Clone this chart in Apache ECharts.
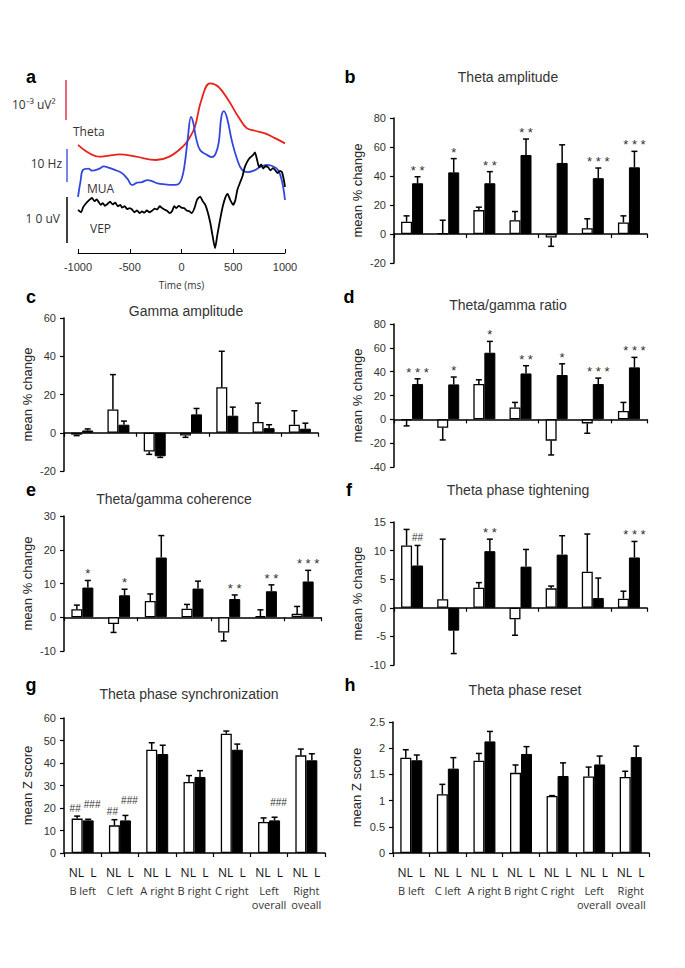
<!DOCTYPE html>
<html><head><meta charset="utf-8">
<script src="https://cdn.jsdelivr.net/npm/echarts@6/dist/echarts.min.js"></script>
<style>html,body{margin:0;padding:0;background:#fff}#c{width:685px;height:968px}</style>
</head><body><div id="c"></div><script>
// ---------- DATA ----------
const groups = ['B left','C left','A right','B right','C right','Left\noverall','Right\noveall'];
const timeTicks = [-1000,-500,0,500,1000];
// panel a traces: [time ms, amplitude]
const thetaTrace = [[-1000,0.41],[-890,0.18],[-793,0.09],[-700,0.12],[-600,0.15],[-439,0.09],[-246,0],[-117,0.09],[12,0.36],[76,0.59],[130,0.9],[192,1.62],[275,2.07],[356,1.98],[452,1.62],[549,1.17],[630,0.86],[710,0.79],[807,0.72],[903,0.59],[1000,0.45]];
const muaTrace = [[-1000,1],[-975,6],[-952,9.4],[-900,9.8],[-865,9.2],[-800,9.7],[-750,10.5],[-720,10.3],[-650,9.5],[-575,8.4],[-520,6.5],[-478,4.7],[-430,5.4],[-382,5.6],[-330,6.2],[-285,5.9],[-230,5.2],[-159,4.9],[-90,4.7],[-43,4.8],[0,6.5],[30,11],[60,19],[92,26],[115,24],[140,19.5],[179,15.6],[240,14.2],[295,13.4],[330,14.5],[360,18],[385,26],[410,27.8],[440,25.6],[490,18],[540,12.5],[585,9.4],[640,8.7],[700,9.2],[760,10.3],[820,11],[870,10.7],[932,9.4],[970,6],[1000,0]];
const vepTrace = [[-1000,1.1],[-970,0.6],[-950,1.7],[-920,2.6],[-890,3.3],[-865,3.7],[-840,3.0],[-820,3.4],[-800,2.8],[-780,2.2],[-760,2.6],[-740,2.0],[-715,2.4],[-690,2.9],[-665,2.3],[-640,2.7],[-615,1.9],[-590,2.2],[-575,1.6],[-550,1.9],[-525,1.3],[-500,1.5],[-478,1.2],[-455,0.6],[-430,1.0],[-405,0.4],[-382,0.8],[-360,0.5],[-335,1.0],[-310,0.6],[-285,0.9],[-260,1.4],[-235,1.2],[-210,1.9],[-188,1.5],[-165,1.2],[-140,0.9],[-115,0.4],[-92,0.8],[-70,1.9],[-50,1.5],[-25,2.0],[0,1.6],[25,1.5],[50,1.0],[75,0.8],[100,0.4],[125,1.5],[150,3.3],[180,4.0],[205,3.0],[230,2.2],[255,0.5],[280,-1.9],[300,-4.5],[324,-7.2],[345,-4.5],[372,-1.1],[400,2.0],[425,3.9],[445,4.6],[470,3.3],[498,2.2],[520,3.2],[540,5.5],[565,7.0],[590,8.5],[610,10.3],[633,11.5],[660,12.4],[690,13.0],[710,13.6],[730,12.0],[750,10.4],[770,11.0],[790,10.1],[810,10.6],[836,10.4],[860,9.7],[885,10.2],[903,9.8],[930,9.1],[950,9.6],[971,9.3],[990,7.5],[1000,6.1]];

// b Theta amplitude
const bNL = [8.5, 0.5, 16.5, 9.5, -2.5, 4, 8];
const bNLerr = [4, 9, 2, 6, 6, 6.5, 4.5];
const bL = [35, 42.5, 35, 54.5, 49, 38.5, 46];
const bLerr = [4.5, 9.5, 8, 11, 12.5, 7, 11];
const bStars = ['**','*','**','**','','***','***'];
// c Gamma amplitude
const cNL = [-1, 12.2, -9.8, -1.4, 23.8, 5.6, 4.2];
const cNLerr = [0.5, 18.2, 1.5, 1, 18.8, 9.9, 7.3];
const cL = [1.2, 4.2, -12.3, 9.6, 8.9, 2.4, 2.1];
const cLerr = [0.8, 1.9, 0.6, 3.1, 4.5, 1.8, 2.9];
// d Theta/gamma ratio
const dNL = [-0.5, -7, 29.6, 10, -17.9, -3.4, 7];
const dNLerr = [5, 10.3, 3.6, 4.2, 12, 8.3, 7.2];
const dL = [29.6, 29.3, 55.9, 38.5, 37.2, 29.6, 43.6];
const dLerr = [4.4, 6.2, 9.5, 6.5, 9.4, 5, 8.4];
const dStars = ['***','*','*','**','*','***','***'];
// e Theta/gamma coherence
const eNL = [2.4, -2, 4.8, 2.5, -4.5, 0.3, 1];
const eNLerr = [1.2, 2.5, 2.1, 1.3, 2.5, 1.9, 2.2];
const eL = [8.8, 6.5, 17.7, 8.5, 5.4, 7.7, 10.6];
const eLerr = [2.1, 1.8, 6.5, 2.2, 1.2, 1.9, 3.3];
const eStars = ['*','*','','','**','**','***'];
// f Theta phase tightening
const fNL = [10.9, 1.5, 3.5, -2, 3.4, 6.3, 1.6];
const fNLerr = [2.8, 10.5, 0.9, 2.8, 0.4, 6.6, 1.3];
const fL = [7.4, -4, 9.9, 7.2, 9.3, 1.7, 8.8];
const fLerr = [3.5, 4, 2.1, 3, 3.3, 3.5, 2.8];
const fMarks = ['##','','**','','','','***'];
// g Theta phase synchronization
const gNL = [15.3, 12.3, 45.9, 31.6, 53, 13.8, 43.4];
const gNLerr = [1.1, 2.5, 3.1, 2.8, 1.2, 1.8, 2.8];
const gL = [14.5, 14.5, 44, 33.8, 45.9, 14.5, 41.2];
const gLerr = [0.5, 2.2, 3.9, 2.8, 2.5, 1.4, 2.9];
const gNLMarks = ['##','##','','','','',''];
const gLMarks = ['###','###','','','','###',''];
// h Theta phase reset
const hNL = [1.82, 1.12, 1.76, 1.53, 1.09, 1.46, 1.45];
const hNLerr = [0.15, 0.19, 0.14, 0.15, 0.005, 0.18, 0.11];
const hL = [1.77, 1.61, 2.13, 1.89, 1.47, 1.69, 1.83];
const hLerr = [0.1, 0.21, 0.19, 0.14, 0.25, 0.16, 0.21];

// ---------- LAYOUT / STYLE ----------
const FONT = '"Liberation Sans", Arial, sans-serif';
const HFONT = '"Open Sans", "Liberation Sans", sans-serif';
const BW = 11;
const TXT = '#333';

const panels = [
  {grid:{left:394,right:38,top:118,bottom:705}, y:{min:-20,max:80,interval:20}, name:'mean % change', nl:bNL, nle:bNLerr, l:bL, le:bLerr, annNL:null, annL:bStars, labels:false},
  {grid:{left:64,right:367,top:318,bottom:497}, y:{min:-20,max:60,interval:20}, name:'mean % change', nl:cNL, nle:cNLerr, l:cL, le:cLerr, annNL:null, annL:null, labels:false},
  {grid:{left:394,right:38,top:324,bottom:501}, y:{min:-40,max:80,interval:20}, name:'mean % change', nl:dNL, nle:dNLerr, l:dL, le:dLerr, annNL:null, annL:dStars, labels:false},
  {grid:{left:64,right:364,top:516,bottom:317}, y:{min:-10,max:30,interval:10}, name:'mean % change', nl:eNL, nle:eNLerr, l:eL, le:eLerr, annNL:null, annL:eStars, labels:false},
  {grid:{left:394,right:38,top:522,bottom:303}, y:{min:-10,max:15,interval:5}, name:'mean % change', nl:fNL, nle:fNLerr, l:fL, le:fLerr, annNL:null, annL:fMarks, labels:false},
  {grid:{left:64,right:360,top:718,bottom:115}, y:{min:0,max:60,interval:10}, name:'mean Z score', nl:gNL, nle:gNLerr, l:gL, le:gLerr, annNL:gNLMarks, annL:gLMarks, labels:true},
  {grid:{left:393,right:36,top:722,bottom:115}, y:{min:0,max:2.5,interval:0.5}, name:'mean Z score', nl:hNL, nle:hNLerr, l:hL, le:hLerr, annNL:null, annL:null, labels:true}
];

const grids = [{left:78, width:207, top:75, height:178}];
const xAxes = [{
  type:'value', gridIndex:0, min:timeTicks[0], max:timeTicks[timeTicks.length - 1], interval:timeTicks[1] - timeTicks[0],
  axisLine:{onZero:false, lineStyle:{color:'#000', width:1}}, axisTick:{inside:true, length:4, lineStyle:{color:'#000'}},
  axisLabel:{color:TXT, fontSize:11, fontFamily:FONT, margin:8, formatter: v => String(v)}, splitLine:{show:false},
  name:'Time (ms)', nameLocation:'middle', nameGap:27, nameTextStyle:{color:TXT, fontSize:10, fontFamily:HFONT}
}];
const hiddenY = (min, max) => ({type:'value', gridIndex:0, min, max, show:false, splitLine:{show:false}});
const yAxes = [hiddenY(-2.514, 2.297), hiddenY(-16.56, 39.06), hiddenY(-8.26, 30.43)];
const series = [
  {type:'line', xAxisIndex:0, yAxisIndex:0, data:thetaTrace, smooth:0.4, showSymbol:false, lineStyle:{color:'#e8231c', width:1.8}, silent:true},
  {type:'line', xAxisIndex:0, yAxisIndex:1, data:muaTrace, smooth:0.4, showSymbol:false, lineStyle:{color:'#3247dc', width:1.8}, silent:true},
  {type:'line', xAxisIndex:0, yAxisIndex:2, data:vepTrace, smooth:0.2, showSymbol:false, lineStyle:{color:'#000', width:1.8}, silent:true}
];

function spaced(s){ return s.indexOf('*') >= 0 ? s.split('').join(' ') : s; }

panels.forEach((p, k) => {
  const xi = k + 1, yi = k + 3;
  grids.push(p.grid);
  xAxes.push({
    type:'category', gridIndex:xi, data:groups,
    axisLine:{onZero:true, lineStyle:{color:'#000', width:1.5}},
    axisTick:{show:true, length:4, lineStyle:{color:'#000', width:1.2}},
    axisLabel: p.labels ? {
      show:true, interval:0, margin:8,
      formatter: v => '{nl|NL  L}\n' + v.split('\n').map(t => '{g|' + t + '}').join('\n'),
      rich:{ nl:{fontSize:12, fontFamily:HFONT, color:'#111', lineHeight:22}, g:{fontSize:11, fontFamily:HFONT, color:TXT, lineHeight:14} }
    } : {show:false},
    splitLine:{show:false}
  });
  yAxes.push({
    type:'value', gridIndex:xi, min:p.y.min, max:p.y.max, interval:p.y.interval,
    axisLine:{show:true, lineStyle:{color:'#000', width:1.5}},
    axisTick:{show:true, length:4, lineStyle:{color:'#000', width:1.2}},
    axisLabel:{color:TXT, fontSize:11, fontFamily:FONT, margin:8},
    splitLine:{show:false},
    name:p.name, nameLocation:'middle', nameRotate:90, nameGap:30,
    nameTextStyle:{color:'#222', fontSize:13, fontFamily:FONT}
  });
  series.push({type:'bar', xAxisIndex:xi, yAxisIndex:yi, data:p.nl, barWidth:BW, barGap:'0%',
    itemStyle:{color:'#fff', borderColor:'#000', borderWidth:1.3}, silent:true});
  series.push({type:'bar', xAxisIndex:xi, yAxisIndex:yi, data:p.l, barWidth:BW, barGap:'0%',
    itemStyle:{color:'#000', borderColor:'#000', borderWidth:1}, silent:true});
  const items = [], anns = [];
  for (let i = 0; i < groups.length; i++) {
    items.push([i, p.nl[i], p.nle[i], 0]); anns.push(p.annNL ? p.annNL[i] : '');
    items.push([i, p.l[i], p.le[i], 1]); anns.push(p.annL ? p.annL[i] : '');
  }
  series.push({
    type:'custom', xAxisIndex:xi, yAxisIndex:yi, data:items, z:5, silent:true,
    renderItem:(params, api) => {
      const i = api.value(0), v = api.value(1), e = api.value(2), side = api.value(3);
      const sgn = v < 0 ? -1 : 1;
      const base = api.coord([i, v]);
      const tip = api.coord([i, v + sgn * e]);
      const x = base[0] + (side ? BW / 2 : -BW / 2);
      const ch = [
        {type:'line', shape:{x1:x, y1:base[1], x2:x, y2:tip[1]}, style:{stroke:'#000', lineWidth:1.5}},
        {type:'line', shape:{x1:x - 3, y1:tip[1], x2:x + 3, y2:tip[1]}, style:{stroke:'#000', lineWidth:1.5}}
      ];
      const a = anns[params.dataIndex];
      if (a) {
        const star = a.indexOf('*') >= 0;
        let dx = 0, dy = star ? 0 : 3;
        if (a === '###') { dx = 4; dy = 10; }
        if (a === '##' && side === 0) { dx = -2; dy = 3; }
        ch.push({type:'text', x:x + dx, y:tip[1] - dy, style:{text:spaced(a), fill:TXT,
          font:(star ? '13px ' : '10px ') + FONT, textAlign:'center', textVerticalAlign:'bottom'}});
      }
      return {type:'group', children:ch};
    }
  });
});

// ---------- TEXT / GRAPHICS ----------
const T = (x, y, text, font, align, fill) => ({type:'text', x, y, silent:true,
  style:{text, font, fill:fill || TXT, textAlign:align || 'center', textVerticalAlign:'middle'}});
const letterFont = 'bold 18px ' + FONT, titleFont = '14px ' + FONT, aFont = '12px ' + HFONT;
const graphic = [
  T(31, 77, 'a', letterFont, 'center', '#000'),
  T(350, 77, 'b', letterFont, 'center', '#000'),
  T(31, 297, 'c', letterFont, 'center', '#000'),
  T(349, 297, 'd', letterFont, 'center', '#000'),
  T(31, 490, 'e', letterFont, 'center', '#000'),
  T(349, 490, 'f', letterFont, 'center', '#000'),
  T(31, 685, 'g', letterFont, 'center', '#000'),
  T(350, 685, 'h', letterFont, 'center', '#000'),
  T(508, 77, 'Theta amplitude', titleFont),
  T(186, 311, 'Gamma amplitude', titleFont),
  T(508, 305, 'Theta/gamma ratio', titleFont),
  T(174, 499, 'Theta/gamma coherence', titleFont),
  T(518, 490, 'Theta phase tightening', titleFont),
  T(189, 694, 'Theta phase synchronization', titleFont),
  T(525, 690, 'Theta phase reset', titleFont),
  T(12, 104, '10\u207B\u00B3 uV\u00B2', aFont, 'left'),
  T(73, 131, 'Theta', aFont, 'left'),
  T(62, 163, '10 Hz', aFont, 'right'),
  T(87, 188, 'MUA', aFont, 'left'),
  T(60, 218, '1 0 uV', aFont, 'right'),
  T(90, 228, 'VEP', aFont, 'left'),
  {type:'line', silent:true, shape:{x1:66, y1:80, x2:66, y2:120}, style:{stroke:'#e33050', lineWidth:1.5}},
  {type:'line', silent:true, shape:{x1:67, y1:149, x2:67, y2:182}, style:{stroke:'#4a5ee0', lineWidth:1.5}},
  {type:'line', silent:true, shape:{x1:67, y1:197, x2:67, y2:243}, style:{stroke:'#000', lineWidth:1.5}}
];

const chart = echarts.init(document.getElementById('c'), null, {renderer:'svg', width:685, height:968});
chart.setOption({
  backgroundColor:'#fff', animation:false,
  grid:grids, xAxis:xAxes, yAxis:yAxes, series:series, graphic:graphic
});
</script></body></html>
